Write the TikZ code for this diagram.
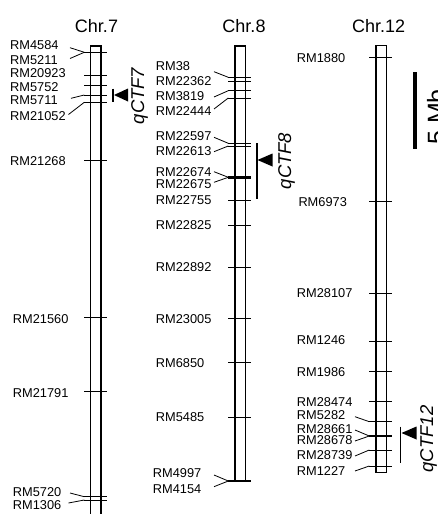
\documentclass[tikz,border=0pt]{standalone}
\usepackage{fontspec}
\setmainfont{Liberation Sans}
\begin{document}
\begin{tikzpicture}[x=1pt,y=-1pt,
  lbl/.style={anchor=west,inner sep=0pt,font=\fontsize{12.8}{14}\selectfont},
  chrtitle/.style={anchor=base,inner sep=0pt,font=\fontsize{18}{20}\selectfont},
  qtl/.style={anchor=north,rotate=90,inner sep=0pt,font=\fontsize{18.5}{20}\selectfont\itshape},
  scaletext/.style={anchor=north,rotate=90,inner sep=0pt,font=\fontsize{25}{27}\selectfont},
  chrom/.style={line width=1.2pt},
  tickline/.style={line width=0.9pt},
  thicktick/.style={line width=2.6pt},
  leader/.style={line width=0.8pt},
  qbar/.style={line width=1.8pt},
  scalebar/.style={line width=4pt},
]
\useasboundingbox (0,0) rectangle (438,514);

% ---------- Chr.7 ----------
\coordinate (c7bl) at (90.7,515); \coordinate (c7tl) at (90.7,46);
\coordinate (c7tr) at (101,46);   \coordinate (c7br) at (101,515);
\draw[chrom] (c7bl) -- (c7tl) -- (c7tr) -- (c7br);
\node[chrtitle] (t7) at (96.5,32.3) {Chr.7};
\foreach \n/\t/\lx/\ly/\ty in {
  a1/RM4584/10/45.5/52.3, a2/RM5211/10/60.5/52.3, a3/RM20923/10/73/75,
  a4/RM5752/10/87/85, a5/RM5711/10/100.5/95, a6/RM21052/10/116/102.3,
  a7/RM21268/10/161.5/160.7, a8/RM21560/12.7/319/317.5,
  a9/RM21791/12.7/393/391.7, a10/RM5720/12.7/491.7/496.7,
  a11/RM1306/12.7/505/500}
{\node[lbl] (\n) at (\lx,\ly) {\t};
 \coordinate (\n-l) at (84.3,\ty); \coordinate (\n-r) at (107,\ty);
 \draw[tickline] (\n-l) -- (\n-r);}
\foreach \n/\sx/\sy in {a1/70/47.7, a2/70/58.5, a5/71/98.3, a6/68.5/114.5,
  a10/70/493, a11/68.5/503}
{\coordinate (\n-s) at (\sx,\sy); \draw[leader] (\n-s) -- (\n-l);}

% qCTF7
\coordinate (q7a) at (113,88.5); \coordinate (q7b) at (113,101.5);
\draw[qbar] (q7a) -- (q7b);
\coordinate (q7tip) at (114,95); \coordinate (q7u) at (128,88.5); \coordinate (q7d) at (128,101.5);
\fill (q7tip) -- (q7u) -- (q7d) -- cycle;
\node[qtl] (q7) at (131,96) {qCTF7};

% ---------- Chr.8 ----------
\coordinate (c8bl) at (235,481.7); \coordinate (c8tl) at (235,46);
\coordinate (c8tr) at (245.7,46);  \coordinate (c8br) at (245.7,481.7);
\draw[chrom] (c8bl) -- (c8tl) -- (c8tr) -- (c8br) -- cycle;
\node[chrtitle] (t8) at (244,32.3) {Chr.8};
\foreach \n/\t/\lx/\ly/\ty in {
  b1/RM38/155.7/66.5/77.3, b2/RM22362/155.7/81.5/81.3, b3/RM3819/155.7/96/90.7,
  b4/RM22444/155.7/111/98, b5/RM22597/155.7/135.7/143.3, b6/RM22613/155.7/150.7/146,
  b7/RM22674/155.7/171.7/177.3, b8/RM22675/155.7/184/177.3,
  b9/RM22755/155.7/200.5/200.7, b10/RM22825/155.7/225/225,
  b11/RM22892/155.7/267/267.7, b12/RM23005/155.7/319.5/318,
  b13/RM6850/155.7/362.7/362.7, b14/RM5485/155.7/417/417.3,
  b15/RM4997/152.7/473.3/481, b16/RM4154/152.7/489.5/481}
{\node[lbl] (\n) at (\lx,\ly) {\t};
 \coordinate (\n-l) at (228.3,\ty); \coordinate (\n-r) at (251,\ty);
 \draw[tickline] (\n-l) -- (\n-r);}
\draw[thicktick] (b7-l) -- (b7-r);
\draw[thicktick] (b15-l) -- (b15-r);
\foreach \n/\sy in {b1/71.7, b3/97, b4/109, b5/137.3, b6/151.7, b7/171.7,
  b8/182.3, b15/475, b16/486.7}
{\coordinate (\n-s) at (214,\sy); \draw[leader] (\n-s) -- (\n-l);}

% qCTF8
\coordinate (q8a) at (256.7,143); \coordinate (q8b) at (256.7,199);
\draw[qbar] (q8a) -- (q8b);
\coordinate (q8tip) at (257.5,160); \coordinate (q8u) at (272.5,153.5); \coordinate (q8d) at (272.5,166.5);
\fill (q8tip) -- (q8u) -- (q8d) -- cycle;
\node[qtl] (q8) at (278,161) {qCTF8};

% ---------- Chr.12 ----------
\coordinate (c12bl) at (376,472.3); \coordinate (c12tl) at (376,45.7);
\coordinate (c12tr) at (386.7,45.7); \coordinate (c12br) at (386.7,472.3);
\draw[chrom] (c12bl) -- (c12tl) -- (c12tr) -- (c12br) -- cycle;
\node[chrtitle] (t12) at (378.6,32.3) {Chr.12};
\foreach \n/\t/\lx/\ly/\ty in {
  c1/RM1880/296.7/58/57.3, c2/RM6973/298.3/202.5/201,
  c3/RM28107/296.7/293.3/293.3, c4/RM1246/296.7/340.5/341,
  c5/RM1986/296.7/371.7/371, c6/RM28474/296.7/401.7/401.7,
  c7/RM5282/296.7/415/421.7, c8/RM28661/296.7/428.7/436,
  c9/RM28678/296.7/440.5/436, c10/RM28739/296.7/454.7/450,
  c11/RM1227/296.7/470.8/466}
{\node[lbl] (\n) at (\lx,\ly) {\t};
 \coordinate (\n-l) at (369.3,\ty); \coordinate (\n-r) at (392.3,\ty);
 \draw[tickline] (\n-l) -- (\n-r);}
\draw[thicktick] (c8-l) -- (c8-r);
\foreach \n/\sy in {c7/416.7, c8/430, c9/441, c10/456, c11/471}
{\coordinate (\n-s) at (355,\sy); \draw[leader] (\n-s) -- (\n-l);}

% qCTF12
\coordinate (q12a) at (400.5,426.7); \coordinate (q12b) at (400.5,463.3);
\draw[qbar] (q12a) -- (q12b);
\coordinate (q12tip) at (401.5,433); \coordinate (q12u) at (416.5,426.5); \coordinate (q12d) at (416.5,439.5);
\fill (q12tip) -- (q12u) -- (q12d) -- cycle;
\node[qtl] (q12) at (420,439) {qCTF12};

% ---------- scale bar ----------
\coordinate (sbt) at (414.7,72.3); \coordinate (sbb) at (414.7,149.3);
\draw[scalebar] (sbt) -- (sbb);
\node[scaletext] (sbl) at (426.7,117) {5 Mb};
\end{tikzpicture}
\end{document}
